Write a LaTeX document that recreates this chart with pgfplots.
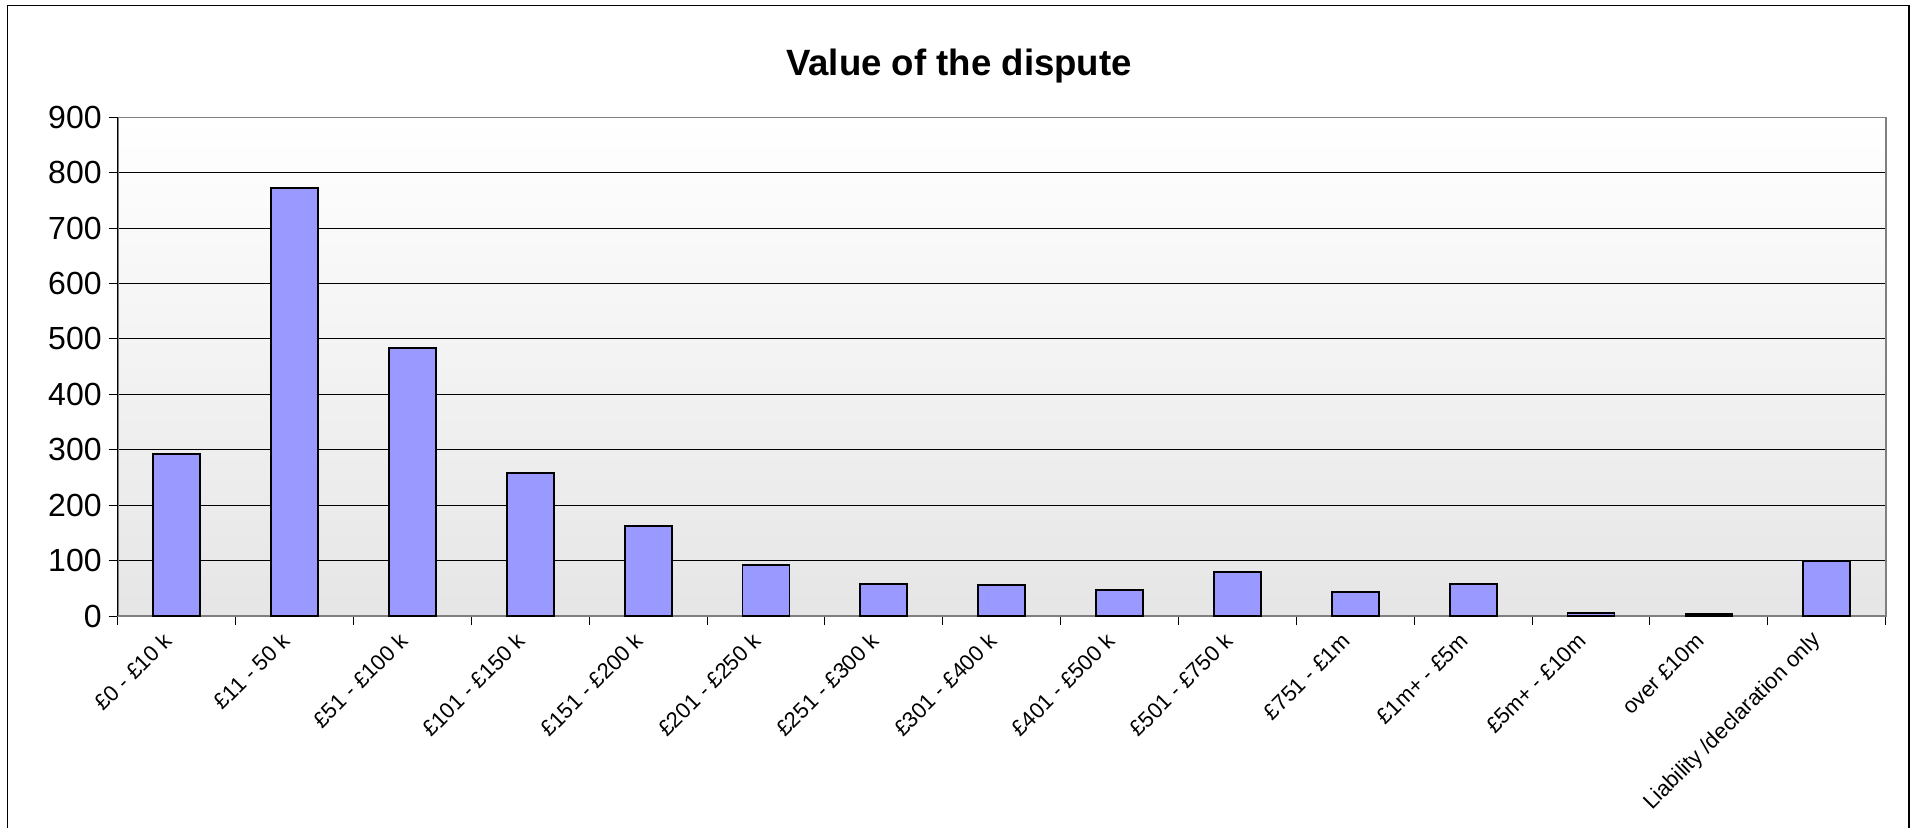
\documentclass[border=0pt]{standalone}
\usepackage{pgfplots}
\pgfplotsset{compat=1.18}
\usepackage{fontspec}
\setmainfont{Liberation Sans}
\definecolor{barblue}{HTML}{9999FF}
\definecolor{frameGray}{HTML}{808080}

\begin{document}
\begin{tikzpicture}
% chart area
\path[use as bounding box] (0pt,0pt) rectangle (955pt,413.5pt);
\draw[line width=0.8pt] (3.65pt,-2pt) -- (3.65pt,410.65pt) -- (954.5pt,410.65pt) -- (954.5pt,-2pt);
\node[anchor=base, font=\fontsize{18.3}{22}\selectfont\bfseries] at (479.5pt,376pt) {Value of the dispute};
\begin{axis}[
  at={(58.85pt,105.5pt)}, anchor=south west,
  scale only axis, width=884pt, height=249.35pt,
  xmin=-0.5, xmax=14.5, ymin=0, ymax=900,
  ytick={0,100,...,900},
  xtick={-0.5,0.5,...,14.5}, xticklabels={},
  extra x ticks={0,1,...,14},
  extra x tick labels={£0 - £10 k,£11 - 50 k,£51 - £100 k,£101 - £150 k,£151 - £200 k,£201 - £250 k,£251 - £300 k,£301 - £400 k,£401 - £500 k,£501 - £750 k,£751 - £1m,£1m+ - £5m,£5m+ - £10m,over £10m,Liability /declaration only},
  extra x tick style={major tick length=0pt, grid=none,
    xticklabel style={xshift=-3pt, yshift=-9pt, rotate=45, anchor=east, font=\fontsize{11}{13}\selectfont, inner sep=2pt}},
  xtick pos=bottom, ytick pos=left,
  tick align=outside, major tick length=4.5pt,
  tick style={black, line width=0.5pt},
  yticklabel style={font=\fontsize{16}{19}\selectfont, /pgf/number format/assume math mode=true},
  ymajorgrids, major grid style={black, line width=0.5pt},
  axis line style={frameGray, line width=0.8pt},
  axis background/.style={top color=white, bottom color=black!10},
  ybar, bar width=23.5pt,
  clip=false,
]
\addplot[fill=barblue, draw=black, line width=0.9pt] coordinates {
  (0,292) (1,772) (2,484) (3,258) (4,163) (5,92) (6,58) (7,56)
  (8,47) (9,80) (10,44) (11,58) (12,6) (13,3) (14,99)
};
\draw[black, line width=0.7pt] (rel axis cs:0,0) -- (rel axis cs:0,1);
\end{axis}
\end{tikzpicture}
\end{document}
